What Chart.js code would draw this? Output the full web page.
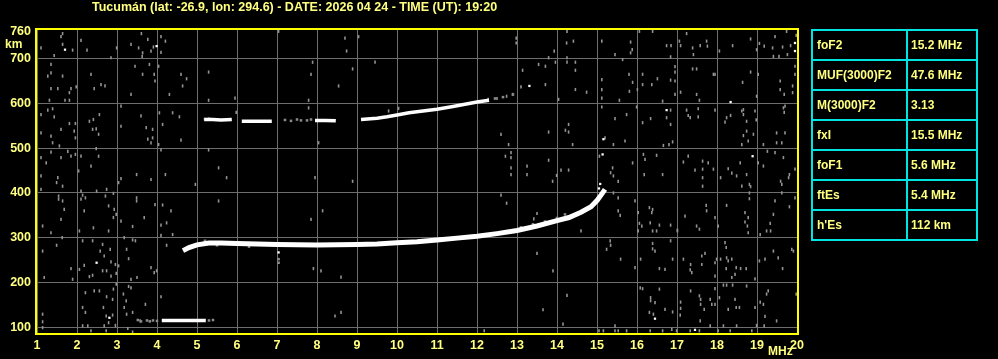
<!DOCTYPE html>
<html>
<head>
<meta charset="utf-8">
<script src="https://cdn.jsdelivr.net/npm/chart.js@4/dist/chart.umd.min.js"></script>
<style>
html, body { margin: 0; padding: 0; background: #000; width: 998px; height: 359px; overflow: hidden; }
#wrap { position: relative; width: 998px; height: 359px; }
#chart { position: absolute; left: 0; top: 0; }
#params { position: absolute; left: 811px; top: 29px; border-collapse: collapse;
	font: bold 12px "Liberation Sans", Arial, sans-serif; color: #ffff80; }
#params td { border: 2px solid #00e4e4; height: 28px; padding: 0 0 0 4px; white-space: nowrap; }
#params td.k { width: 89px; }
#params td.v { width: 65px; padding-left: 3px; }
</style>
</head>
<body>
<div id="wrap">
	<canvas id="chart" width="998" height="359"></canvas>
	<table id="params"></table>
</div>
<script>
const TITLE = 'Tucumán (lat: -26.9, lon: 294.6) - DATE: 2026 04 24 - TIME (UT): 19:20';

// axis ticks
const freqTicks = [1, 2, 3, 4, 5, 6, 7, 8, 9, 10, 11, 12, 13, 14, 15, 16, 17, 18, 19, 20];
const heightTicks = [100, 200, 300, 400, 500, 600, 700, 760];

// scaled parameters (right table)
const paramNames = ['foF2', 'MUF(3000)F2', 'M(3000)F2', 'fxI', 'foF1', 'ftEs', "h'Es"];
const paramValues = ['15.2 MHz', '47.6 MHz', '3.13', '15.5 MHz', '5.6 MHz', '5.4 MHz', '112 km'];

// F layer trace (MHz / km)
const fFreq   = [4.65, 4.8, 5.0, 5.3, 5.6, 6.0, 6.5, 7.0, 7.5, 8.0, 8.5, 9.0, 9.5, 10.0, 10.5, 11.0, 11.5, 12.0, 12.5, 13.0, 13.5, 14.0, 14.3, 14.6, 14.85, 15.0, 15.1, 15.2];
const fHeight = [271, 278, 284, 288, 288, 287, 286, 285, 284, 283.5, 284, 285, 286, 288.5, 291, 295, 299, 303, 309, 316, 326, 338, 345, 357, 369, 383, 395, 408];

// second hop F trace, null = gap
const hopFreq   = [5.18, 5.4, 5.6, 5.87, null, 6.12, 6.4, 6.6, 6.87, null, 7.95, 8.2, 8.47, null, 9.1, 9.5, 9.75, 10.0, 10.3, 10.65, 11.0, 11.4, 11.7, 12.0, 12.3];
const hopHeight = [564, 564, 563, 564, null, 560, 560, 560, 560, null, 562, 562, 561, null, 564, 567, 570, 574, 579, 583, 587, 593, 598, 603, 607];

// sporadic E trace
const esFreq   = [4.12, 4.4, 4.7, 5.0, 5.22];
const esHeight = [115, 115, 115, 115, 115];

// faint echoes near the traces
const faintDots = [[3.52, 116], [3.6, 113], [3.75, 115], [3.82, 113], [3.9, 115], [4.0, 114], [5.3, 115], [5.4, 116],
	[5.2, 565], [5.3, 566], [7.2, 563], [7.35, 561], [7.5, 564], [7.6, 562], [7.75, 562], [7.85, 564],
	[12.45, 611], [12.65, 614], [12.9, 620], [7.04, 252], [7.04, 244], [5.2, 293], [5.5, 283], [6.3, 280],
	[13.4, 330], [13.7, 336], [14.2, 352], [14.0, 344], [13.1, 323]];

// bright isolated echoes
const brightDots = [[1.70, 720], [3.99, 728], [2.49, 244], [2.81, 121], [19.95, 735], [19.95, 717], [18.34, 603],
	[16.74, 585], [15.16, 520], [15.14, 486], [18.89, 482], [15.18, 404], [15.12, 397], [16.45, 119], [17.45, 94],
	[7.04, 267], [13.31, 639], [15.05, 410], [15.08, 420]];

// background noise echoes
const noiseDots = [
	[1.64, 756], [1.60, 749], [1.64, 732], [1.89, 719], [1.43, 707], [1.10, 724], [2.10, 741], [2.25, 719], [2.99, 724], [2.85, 702],
	[3.35, 732], [3.54, 724], [3.61, 756], [3.64, 713], [3.77, 743], [3.85, 717], [3.91, 726], [4.10, 749], [4.10, 714], [4.21, 739], [3.63, 705],
	[1.35, 687], [1.35, 668], [1.27, 661], [1.64, 661], [1.35, 633], [1.52, 633], [1.81, 624], [1.85, 633], [1.98, 637], [1.70, 607],
	[1.81, 607], [1.31, 607], [2.35, 665], [2.43, 633], [2.60, 642], [2.70, 639], [3.35, 620], [3.45, 683], [3.64, 665], [3.81, 687],
	[3.93, 665], [3.95, 650], [4.04, 683], [4.60, 665], [4.74, 655], [4.64, 639], [4.31, 620], [5.29, 670], [5.29, 607], [5.95, 612],
	[1.10, 575], [1.27, 585], [1.39, 588], [1.43, 570], [1.60, 542], [1.35, 527], [1.10, 534], [1.81, 555], [1.96, 555], [1.93, 538],
	[1.96, 523], [1.39, 512], [1.56, 505], [2.31, 560], [2.41, 564], [2.48, 543], [2.56, 575], [2.54, 531], [2.39, 542], [3.10, 594],
	[3.10, 549], [3.60, 572], [3.73, 546], [3.77, 520], [3.89, 542], [3.89, 523], [3.85, 512], [4.06, 579], [4.14, 553], [4.39, 579],
	[4.56, 570], [4.60, 518], [5.98, 580], [4.04, 508],
	[1.10, 479], [1.23, 467], [1.35, 491], [1.60, 479], [1.77, 493], [1.85, 482], [1.96, 486], [2.10, 482], [2.35, 460], [2.48, 499],
	[2.54, 482], [2.04, 449], [1.10, 438], [1.52, 434], [1.49, 423], [1.64, 415], [1.10, 408], [2.10, 404], [2.49, 404], [2.74, 408],
	[3.10, 432], [3.04, 423], [3.49, 441], [3.85, 430], [4.10, 496], [4.21, 441], [4.96, 419], [5.29, 496], [5.54, 456], [5.74, 434],
	[1.54, 393], [1.54, 386], [1.64, 382], [1.68, 363], [2.14, 395], [2.21, 389], [2.10, 386], [2.71, 393], [2.79, 371], [2.91, 399],
	[2.93, 363], [2.98, 352], [2.91, 345], [2.18, 360], [1.60, 341], [1.14, 326], [1.35, 311], [2.06, 315], [2.41, 322], [2.79, 315],
	[3.10, 337], [3.39, 325], [3.49, 389], [3.49, 382], [3.68, 345], [3.95, 374], [4.14, 373], [4.35, 360], [4.24, 333], [4.10, 328],
	[4.39, 307], [4.10, 305], [5.54, 382], [1.63, 300],
	[1.14, 270], [1.49, 283], [1.85, 231], [1.89, 207], [1.18, 211], [2.14, 293], [2.39, 293], [2.64, 285], [2.58, 270], [2.83, 274],
	[2.68, 259], [2.85, 246], [2.64, 226], [2.74, 226], [2.96, 240], [3.04, 237], [2.98, 220], [2.85, 214], [2.31, 213], [2.39, 216],
	[2.06, 229], [2.18, 238], [3.18, 300], [3.24, 274], [3.29, 253], [3.39, 295], [3.46, 293], [3.35, 207], [3.50, 211], [3.85, 233],
	[3.93, 222], [3.99, 226], [4.24, 283],
	[1.14, 129], [1.14, 112], [2.21, 177], [2.21, 133], [2.14, 144], [2.43, 181], [2.56, 181], [2.74, 168], [2.89, 162], [2.98, 196],
	[2.91, 185], [2.66, 144], [2.73, 125], [2.79, 110], [2.89, 127], [3.16, 174], [3.23, 159], [3.18, 144], [3.29, 191], [3.35, 188],
	[3.71, 151], [3.39, 133], [3.24, 129], [4.10, 168], [3.58, 114], [2.14, 103], [2.27, 103], [2.35, 92], [2.68, 103], [2.73, 92],
	[2.96, 104], [3.27, 97], [3.39, 89], [1.14, 99],
	[7.04, 761], [8.70, 746], [9.04, 749], [8.74, 717], [7.89, 692], [7.85, 665], [8.89, 677], [9.45, 692], [8.54, 639], [7.79, 607],
	[7.79, 590], [8.04, 512], [7.95, 434], [8.89, 426], [8.14, 360], [7.85, 341], [7.91, 231], [8.10, 226], [8.60, 212], [8.45, 125],
	[8.60, 133], [9.79, 583], [10.04, 589], [12.60, 531], [12.79, 508], [12.71, 482], [12.85, 490], [12.85, 479], [12.85, 456], [12.85, 441],
	[13.25, 460], [13.25, 441], [12.60, 395], [12.74, 377], [13.50, 354], [13.42, 342], [13.50, 265], [13.65, 139], [14.15, 107], [14.25, 171],
	[13.90, 226], [14.60, 315], [15.06, 482], [13.79, 473], [14.10, 451], [14.29, 451], [13.89, 426], [13.99, 439], [13.79, 536], [14.21, 540],
	[14.29, 536], [14.29, 553], [14.39, 508], [14.46, 674], [14.46, 692], [14.25, 692], [14.25, 702], [13.96, 692], [13.79, 702], [13.71, 683],
	[13.54, 687], [13.14, 674], [13.10, 637], [13.71, 642], [14.04, 609], [14.46, 631], [14.74, 625], [14.41, 739], [14.24, 735], [14.25, 761],
	[12.98, 746], [12.98, 735], [13.93, 717], [12.18, 92], [15.05, 92], [15.16, 92], [12.89, 620], [12.74, 616], [12.50, 611], [12.28, 609],
	[15.12, 739], [15.84, 737], [15.88, 720], [15.84, 713], [15.45, 709], [15.64, 698], [16.74, 729], [16.85, 729], [16.84, 704], [17.06, 739],
	[17.09, 729], [17.24, 756], [17.39, 724], [17.41, 709], [17.58, 729], [17.74, 739], [17.76, 728], [18.06, 717], [18.39, 729], [18.84, 744],
	[18.99, 720], [19.06, 734], [19.18, 728], [19.39, 724], [19.41, 705], [19.45, 749], [19.55, 705], [19.64, 726], [19.74, 761], [19.76, 709],
	[19.84, 729], [19.98, 752], [16.39, 761], [16.06, 761],
	[16.14, 665], [15.80, 665], [15.89, 647], [15.81, 627], [16.01, 631], [16.14, 642], [16.37, 642], [16.51, 655], [16.84, 652], [16.95, 682],
	[16.95, 670], [16.95, 650], [17.09, 625], [16.95, 620], [15.12, 653], [15.12, 631], [15.12, 612], [15.56, 607], [16.64, 605], [17.39, 677],
	[17.49, 677], [17.49, 620], [17.56, 607], [17.91, 665], [17.95, 665], [18.64, 647], [18.84, 670], [19.03, 665], [18.99, 616], [19.58, 650],
	[19.58, 631], [19.68, 620], [19.89, 639], [19.89, 624], [19.95, 683], [19.95, 665],
	[15.12, 592], [15.45, 566], [15.74, 575], [15.99, 592], [16.14, 557], [16.34, 566], [16.74, 568], [16.84, 585], [16.84, 553], [16.66, 506],
	[16.80, 508], [16.89, 514], [17.24, 585], [17.28, 573], [17.33, 568], [17.53, 588], [17.53, 570], [17.95, 585], [18.24, 568], [18.20, 558],
	[18.34, 573], [18.62, 583], [18.66, 586], [18.66, 575], [18.74, 560], [18.95, 583], [18.98, 563], [18.91, 531], [18.74, 538], [18.66, 528],
	[18.62, 508], [18.78, 516], [19.66, 590], [19.68, 580], [19.70, 594], [19.49, 534], [19.70, 534], [19.62, 512], [19.49, 512], [19.16, 508],
	[15.20, 523], [15.41, 508], [15.70, 516],
	[15.39, 456], [15.34, 445], [15.41, 438], [15.53, 426], [15.89, 467], [16.16, 486], [16.20, 475], [16.18, 441], [16.49, 484], [16.64, 441],
	[17.16, 469], [17.28, 482], [17.45, 451], [17.64, 471], [17.64, 453], [17.64, 434], [17.64, 415], [17.78, 467], [17.91, 453], [18.09, 434],
	[18.28, 454], [18.37, 444], [18.49, 438], [18.58, 467], [18.74, 441], [18.81, 419], [18.62, 415], [18.84, 414], [19.03, 467], [19.16, 460],
	[19.26, 493], [19.45, 490], [19.66, 479], [19.62, 419], [19.79, 434], [19.59, 426], [19.81, 441], [19.95, 453], [15.41, 400],
	[15.53, 389], [15.53, 360], [15.58, 350], [15.95, 382], [16.03, 356], [16.31, 367], [16.39, 363], [16.37, 356], [16.06, 332], [16.12, 326],
	[16.03, 315], [16.33, 333], [16.39, 315], [16.49, 315], [16.56, 328], [16.84, 328], [17.01, 317], [17.20, 348], [17.49, 326], [17.56, 319],
	[17.73, 372], [17.74, 360], [17.95, 345], [18.03, 326], [18.24, 372], [18.70, 356], [18.78, 345], [18.76, 326], [18.78, 311], [18.70, 335],
	[18.81, 400], [18.81, 387], [19.24, 315], [19.34, 315], [19.33, 332], [19.41, 352], [19.45, 382], [19.62, 400], [19.81, 369], [19.95, 389],
	[19.08, 307], [17.01, 315],
	[15.33, 293], [15.34, 283], [15.24, 274], [15.59, 252], [15.95, 233], [16.09, 252], [16.39, 287], [16.39, 275], [16.45, 270], [16.56, 231],
	[16.70, 229], [16.84, 293], [16.89, 252], [17.16, 252], [17.34, 240], [17.37, 222], [17.62, 259], [17.70, 265], [17.62, 240], [17.95, 244],
	[17.99, 252], [17.95, 214], [18.09, 252], [18.20, 289], [18.23, 278], [18.24, 255], [18.28, 248], [18.37, 252], [18.48, 233], [18.45, 218],
	[18.37, 211], [18.23, 231], [18.59, 231], [18.73, 231], [18.95, 208], [19.06, 248], [19.20, 252], [19.41, 270], [19.53, 255], [19.64, 231],
	[19.87, 274], [19.91, 270], [17.33, 228],
	[16.08, 188], [16.14, 186], [16.34, 166], [16.34, 159], [16.45, 155], [16.31, 133], [16.56, 185], [16.70, 140], [16.41, 129], [16.89, 134],
	[17.09, 156], [17.09, 142], [17.08, 127], [17.34, 181], [17.56, 170], [17.59, 162], [17.59, 151], [17.58, 114], [17.68, 140], [17.83, 162],
	[17.87, 151], [17.95, 151], [17.95, 186], [18.06, 166], [18.16, 194], [18.24, 194], [18.39, 194], [18.45, 162], [18.48, 144], [18.28, 140],
	[18.56, 144], [18.74, 192], [18.95, 144], [18.99, 104], [19.20, 124], [19.16, 151], [19.08, 156], [19.24, 174], [19.28, 181], [19.49, 114],
	[19.98, 174], [15.45, 103], [15.45, 92], [15.53, 92], [15.74, 92], [16.33, 92], [16.64, 92], [16.87, 95], [16.99, 92], [17.33, 92],
	[17.56, 92], [17.83, 103], [18.03, 92], [18.16, 103], [18.33, 92], [18.49, 103], [18.87, 92], [19.18, 103]
];

const TEXT_COLOR = '#ffff80';
const FONT = '"Liberation Sans", Arial, sans-serif';

// fill the parameter table
const table = document.getElementById('params');
paramNames.forEach((name, i) => {
	const row = table.insertRow();
	const k = row.insertCell();
	k.className = 'k';
	k.textContent = name;
	const v = row.insertCell();
	v.className = 'v';
	v.textContent = paramValues[i];
});

function toPoints(xs, ys) {
	return xs.map((x, i) => (x === null ? { x: NaN, y: NaN } : { x: x, y: ys[i] }));
}
function pairsToPoints(pairs) {
	return pairs.map(p => ({ x: p[0], y: p[1] }));
}

// yellow frame, title and unit labels
const decorations = {
	id: 'decorations',
	afterDraw(chart) {
		const ctx = chart.ctx;
		const a = chart.chartArea;
		ctx.save();
		ctx.strokeStyle = '#ffff00';
		ctx.lineWidth = 2;
		ctx.strokeRect(a.left - 1, a.top - 1, a.right - a.left + 2, a.bottom - a.top + 2);

		ctx.fillStyle = TEXT_COLOR;
		ctx.textBaseline = 'middle';
		ctx.textAlign = 'left';
		ctx.font = 'bold 12.5px ' + FONT;
		ctx.fillText(TITLE, 92, 7.5);
		ctx.font = 'bold 12px ' + FONT;
		ctx.fillText('km', 5, 45);
		ctx.fillText('MHz', 768, 352);
		ctx.restore();
	}
};

const lineBase = {
	type: 'scatter',
	showLine: true,
	spanGaps: false,
	pointRadius: 0,
	borderColor: '#ffffff',
	borderCapStyle: 'butt',
	tension: 0
};

new Chart(document.getElementById('chart'), {
	type: 'scatter',
	data: {
		datasets: [
			Object.assign({}, lineBase, { data: toPoints(fFreq, fHeight), borderWidth: 5, order: 0 }),
			Object.assign({}, lineBase, { data: toPoints(hopFreq, hopHeight), borderWidth: 3.5, order: 0 }),
			Object.assign({}, lineBase, { data: toPoints(esFreq, esHeight), borderWidth: 3.5, order: 0 }),
			{
				data: pairsToPoints(brightDots),
				pointStyle: 'rect',
				pointRadius: 1.6,
				backgroundColor: '#ffffff',
				borderWidth: 0,
				order: 1
			},
			{
				data: pairsToPoints(faintDots),
				pointStyle: 'rect',
				pointRadius: 1.8,
				backgroundColor: '#8a8a8a',
				borderWidth: 0,
				order: 2
			},
			{
				data: pairsToPoints(noiseDots),
				pointStyle: 'line',
				rotation: 90,
				pointRadius: 1.6,
				borderWidth: 1.6,
				borderColor: '#939393',
				order: 3
			}
		]
	},
	options: {
		responsive: false,
		animation: false,
		events: [],
		layout: { padding: { left: 0, right: 201, top: 30, bottom: 0 } },
		plugins: { legend: { display: false }, tooltip: { enabled: false }, title: { display: false } },
		scales: {
			x: {
				type: 'linear',
				min: 1,
				max: 20,
				afterBuildTicks: s => { s.ticks = freqTicks.map(v => ({ value: v })); },
				afterFit: s => { s.height = 26; },
				grid: { color: '#6e6e6e', lineWidth: 1, drawTicks: false },
				border: { display: false },
				ticks: { color: TEXT_COLOR, padding: 5, maxRotation: 0, autoSkip: false, font: { family: FONT, size: 12.5, weight: 'bold' } }
			},
			y: {
				type: 'linear',
				min: 87,
				max: 764,
				afterBuildTicks: s => { s.ticks = heightTicks.map(v => ({ value: v })); },
				afterFit: s => { s.width = 37; },
				grid: {
					color: c => (c.tick && c.tick.value === 760 ? 'rgba(0,0,0,0)' : '#6e6e6e'),
					lineWidth: 1,
					drawTicks: false
				},
				border: { display: false },
				ticks: { color: TEXT_COLOR, padding: 6, autoSkip: false, font: { family: FONT, size: 12.5, weight: 'bold' } }
			}
		}
	},
	plugins: [decorations]
});
</script>
</body>
</html>
